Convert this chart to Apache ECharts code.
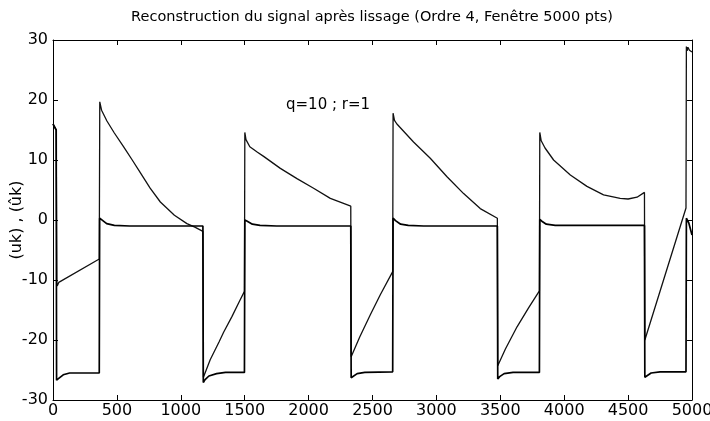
<!DOCTYPE html>
<html>
<head>
<meta charset="utf-8">
<script src="https://cdn.jsdelivr.net/npm/echarts@6/dist/echarts.min.js"></script>
<style>
html,body{margin:0;padding:0;background:#fff;}
#chart{width:710px;height:421px;}
</style>
</head>
<body>
<div id="chart"></div>
<script>
// ---- data ----
var titleText = "Reconstruction du signal après lissage (Ordre 4, Fenêtre 5000 pts)";
var yAxisName = "(uk) , (ûk)";
var annotation = "q=10 ; r=1";
var xTicks = [0, 500, 1000, 1500, 2000, 2500, 3000, 3500, 4000, 4500, 5000];
var yTicks = [-30, -20, -10, 0, 10, 20, 30];

// uk : filtered square-like signal
var ukX = [0, 25, 28, 45, 80, 130, 362, 365, 380, 420, 480, 600, 1173,
  1176, 1190, 1220, 1280, 1350, 1498,
  1501, 1520, 1560, 1620, 1750, 2330,
  2333, 2345, 2380, 2440, 2658,
  2661, 2680, 2720, 2780, 2900, 3477,
  3480, 3495, 3530, 3600, 3806,
  3809, 3825, 3860, 3930, 4050, 4628,
  4631, 4645, 4680, 4750, 4953,
  4956, 4962, 4968, 4975, 5000];
var ukY = [16, 15, -26.7, -26.4, -25.8, -25.5, -25.5, 0.3, 0, -0.6, -0.9, -1, -1,
  -27.1, -26.6, -26, -25.6, -25.4, -25.4,
  0, -0.2, -0.7, -0.9, -1, -1,
  -26.3, -26, -25.6, -25.4, -25.3,
  0.3, -0.1, -0.7, -0.9, -1, -1,
  -26.5, -26.1, -25.6, -25.4, -25.4,
  0.1, -0.2, -0.7, -0.9, -0.9, -0.9,
  -26.2, -25.9, -25.5, -25.3, -25.3,
  0.3, 0, 0.4, -0.5, -2.5];

// ûk : reconstructed signal
var uhX = [0, 25, 30, 33, 45, 362,
  366, 380, 422, 480, 553, 620, 683, 760, 840, 950, 1048, 1110, 1173,
  1177, 1230, 1300, 1335, 1400, 1460, 1498,
  1501, 1510, 1540, 1600, 1648, 1779, 1909, 2039, 2170, 2330,
  2333, 2400, 2483, 2560, 2658,
  2661, 2672, 2691, 2821, 2952, 3083, 3213, 3343, 3477,
  3480, 3540, 3631, 3720, 3806,
  3809, 3820, 3850, 3917, 4048, 4178, 4308, 4438, 4500, 4570, 4628,
  4631, 4953,
  4956, 4962, 4968, 4980, 5000];
var uhY = [16, 15, -10.5, -11, -10.4, -6.5,
  19.7, 18.3, 16.5, 14.5, 12.2, 10, 7.9, 5.3, 3, 0.8, -0.6, -1.2, -1.9,
  -26.2, -23.3, -20.3, -18.7, -16.1, -13.5, -11.9,
  14.6, 13.4, 12.2, 11.3, 10.6, 8.6, 6.9, 5.3, 3.6, 2.3,
  -22.8, -19.5, -15.8, -12.5, -8.6,
  17.8, 16.6, 16, 13, 10.3, 7.2, 4.4, 1.9, 0.3,
  -24.3, -21.5, -17.8, -14.7, -11.8,
  14.6, 13.2, 12, 10, 7.5, 5.6, 4.2, 3.6, 3.5, 3.8, 4.6,
  -20, 2,
  28.9, 28.2, 28.8, 28.3, 28];

function pairs(xs, ys){ var out=[]; for(var i=0;i<xs.length;i++) out.push([xs[i], ys[i]]); return out; }

var FONT = "'DejaVu Sans', sans-serif";
var chart = echarts.init(document.getElementById('chart'), null, {renderer:'canvas'});

var axisCommon = {
  axisLine:{show:true, onZero:false, lineStyle:{color:'#000', width:1}},
  axisTick:{show:true, inside:true, length:5, lineStyle:{color:'#000', width:1}},
  splitLine:{show:false}
};

chart.setOption({
  backgroundColor:'#fff',
  animation:false,
  grid:{left:53, right:18, top:40, bottom:21, containLabel:false, outerBoundsMode:'none'},
  graphic:[
    {type:'text', x:372, y:10, style:{text:titleText, font:"14.5px "+FONT, fill:'#000', textAlign:'center', textVerticalAlign:'top'}},
    {type:'text', x:286, y:98, style:{text:annotation, font:"15px "+FONT, fill:'#000'}}
  ],
  xAxis:[
    Object.assign({type:'value', position:'bottom', min:xTicks[0], max:xTicks[xTicks.length-1], interval:500,
      axisLabel:{color:'#000', fontSize:16, fontFamily:FONT, margin:3, formatter:function(v){return String(v);}}}, axisCommon),
    Object.assign({type:'value', position:'top', min:xTicks[0], max:xTicks[xTicks.length-1], interval:500,
      axisLabel:{show:false}}, axisCommon)
  ],
  yAxis:[
    Object.assign({type:'value', position:'left', min:yTicks[0], max:yTicks[yTicks.length-1], interval:10,
      name:yAxisName, nameLocation:'middle', nameGap:28, nameRotate:90, nameMoveOverlap:false,
      nameTextStyle:{color:'#000', fontSize:16, fontFamily:FONT},
      axisLabel:{color:'#000', fontSize:16, fontFamily:FONT, margin:5, formatter:function(v){return String(v);}}}, axisCommon),
    Object.assign({type:'value', position:'right', min:yTicks[0], max:yTicks[yTicks.length-1], interval:10,
      axisLabel:{show:false}}, axisCommon)
  ],
  series:[
    {type:'line', name:'uk', data:pairs(ukX, ukY), showSymbol:false, symbol:'none',
      lineStyle:{color:'#000', width:1.7}, z:3},
    {type:'line', name:'ûk', data:pairs(uhX, uhY), showSymbol:false, symbol:'none',
      lineStyle:{color:'#111', width:1.3}, z:2}
  ]
});
</script>
</body>
</html>
